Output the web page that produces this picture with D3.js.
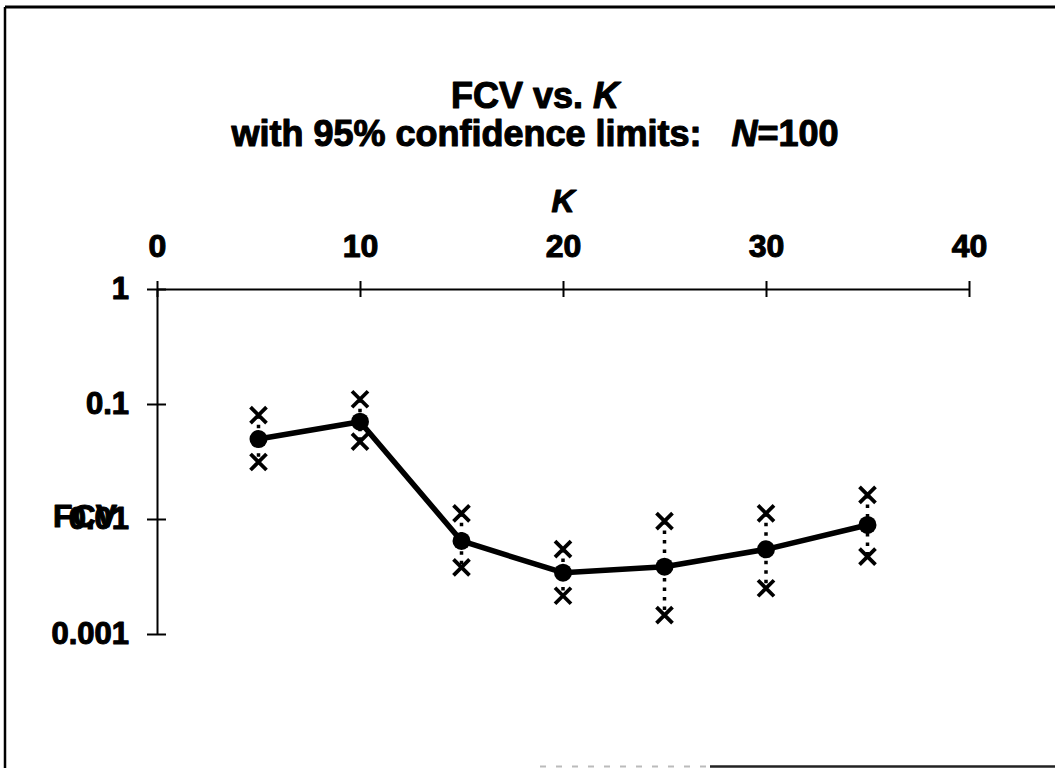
<!DOCTYPE html>
<html>
<head>
<meta charset="utf-8">
<script src="https://cdn.jsdelivr.net/npm/d3@7"></script>
<style>
  html, body { margin: 0; padding: 0; background: #fff; }
  svg { display: block; }
  text { font-family: "Liberation Sans", Arial, Helvetica, sans-serif; font-weight: bold; fill: #000;
         stroke: #000; stroke-width: 1.1px; stroke-linejoin: round; }
</style>
</head>
<body>
<script>
// FCV estimates with 95% confidence limits, N = 100
const kValues = [5, 10, 15, 20, 25, 30, 35];
const fcv     = [0.0496, 0.0702, 0.00644, 0.00341, 0.00385, 0.00545, 0.00887];
const upper   = [0.080, 0.110, 0.0112, 0.00548, 0.0096, 0.0112, 0.0162];
const lower   = [0.0313, 0.047, 0.0038, 0.00215, 0.00146, 0.0025, 0.0047];
const xTicks  = [0, 10, 20, 30, 40];
const yTicks  = [1, 0.1, 0.01, 0.001];
const yTickLabels = ["1", "0.1", "0.01", "0.001"];

const W = 1055, H = 768;
const svg = d3.select("body").append("svg").attr("width", W).attr("height", H);

// Outer frame (top, left and the visible part of the bottom edge)
svg.append("line").attr("x1", 5).attr("y1", 7).attr("x2", W).attr("y2", 7)
  .attr("stroke", "#000").attr("stroke-width", 3);
svg.append("line").attr("x1", 5).attr("y1", 7).attr("x2", 5).attr("y2", H)
  .attr("stroke", "#000").attr("stroke-width", 2.5);
svg.append("line").attr("x1", 540).attr("y1", 766.5).attr("x2", 710).attr("y2", 766.5)
  .attr("stroke", "#bbb").attr("stroke-width", 2).attr("stroke-dasharray", "6,10");
svg.append("line").attr("x1", 710).attr("y1", 766.5).attr("x2", W).attr("y2", 766.5)
  .attr("stroke", "#222").attr("stroke-width", 2.5);

const x = d3.scaleLinear().domain([0, 40]).range([157, 969]);
const y = d3.scaleLog().domain([0.001, 1]).range([634, 289]);

// Titles
const title = svg.append("text").attr("x", 535).attr("text-anchor", "middle")
  .style("font-size", "36px");
title.append("tspan").attr("x", 535).attr("y", 108).text("FCV vs.  ");
title.append("tspan").style("font-style", "italic").text("K");
const sub = svg.append("text").attr("x", 535).attr("text-anchor", "middle")
  .style("font-size", "36px");
sub.append("tspan").attr("x", 535).attr("y", 146).attr("xml:space", "preserve")
  .text("with 95% confidence limits:   ");
sub.append("tspan").style("font-style", "italic").text("N");
sub.append("tspan").text("=100");

// Top K axis
const xAxis = svg.append("g").attr("transform", `translate(0,${y(1)})`)
  .call(d3.axisTop(x).tickValues(xTicks).tickFormat(d3.format("d"))
        .tickSizeOuter(0).tickSizeInner(8).tickPadding(24));
xAxis.select(".domain").attr("stroke", "#000").attr("stroke-width", 2);
xAxis.selectAll(".tick line").attr("y1", -8).attr("y2", 8)
  .attr("stroke", "#000").attr("stroke-width", 2);
xAxis.selectAll(".tick text").style("font-size", "32px")
  .style("font-family", "Liberation Sans, Arial, sans-serif").style("font-weight", "bold")
  .attr("fill", "#000");

svg.append("text").attr("x", x(20)).attr("y", 212).attr("text-anchor", "middle")
  .style("font-size", "32px").style("font-style", "italic").text("K");

// Left log FCV axis
const yAxis = svg.append("g").attr("transform", `translate(${x(0)},0)`)
  .call(d3.axisLeft(y).tickValues(yTicks)
        .tickFormat((d, i) => yTickLabels[i])
        .tickSizeOuter(0).tickSizeInner(10).tickPadding(18));
yAxis.select(".domain").attr("stroke", "#000").attr("stroke-width", 2);
yAxis.selectAll(".tick line").attr("x1", -10).attr("x2", 9)
  .attr("stroke", "#000").attr("stroke-width", 2);
yAxis.selectAll(".tick text").style("font-size", "31px")
  .style("font-family", "Liberation Sans, Arial, sans-serif").style("font-weight", "bold")
  .attr("fill", "#000");

svg.append("text").attr("x", 53).attr("y", 527).style("font-size", "32px").text("FCV");

// Data rows
const rows = kValues.map((k, i) => ({ k, v: fcv[i], hi: upper[i], lo: lower[i] }));

// Dotted confidence intervals
svg.append("g").selectAll("line").data(rows).join("line")
  .attr("x1", d => x(d.k)).attr("x2", d => x(d.k))
  .attr("y1", d => y(d.hi)).attr("y2", d => y(d.lo))
  .attr("stroke", "#000").attr("stroke-width", 3.5)
  .attr("stroke-dasharray", "3.5,6");

// FCV line
svg.append("path").datum(rows)
  .attr("d", d3.line().x(d => x(d.k)).y(d => y(d.v)))
  .attr("fill", "none").attr("stroke", "#000").attr("stroke-width", 5.5)
  .attr("stroke-linejoin", "round");

// Point markers
svg.append("g").selectAll("circle").data(rows).join("circle")
  .attr("cx", d => x(d.k)).attr("cy", d => y(d.v)).attr("r", 9)
  .attr("fill", "#000");

// Confidence limit crosses
const cross = (g, key) => g.selectAll("path").data(rows).join("path")
  .attr("d", d => {
    const cx = x(d.k), cy = y(d[key]), s = 8;
    return `M${cx - s},${cy - s}L${cx + s},${cy + s}M${cx - s},${cy + s}L${cx + s},${cy - s}`;
  })
  .attr("stroke", "#000").attr("stroke-width", 3.8).attr("fill", "none");
svg.append("g").call(cross, "hi");
svg.append("g").call(cross, "lo");
</script>
</body>
</html>
